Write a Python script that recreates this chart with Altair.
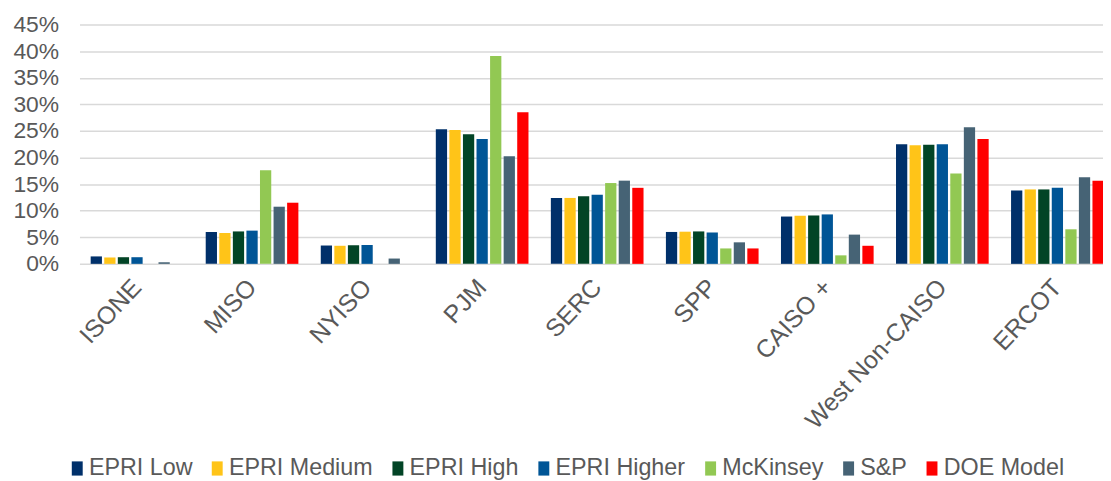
import altair as alt
import pandas as pd

regions = ["ISONE", "MISO", "NYISO", "PJM", "SERC", "SPP", "CAISO +", "West Non-CAISO", "ERCOT"]
series = ["EPRI Low", "EPRI Medium", "EPRI High", "EPRI Higher", "McKinsey", "S&P", "DOE Model"]
colors = ["#00306A", "#FFC418", "#024426", "#005596", "#92C853", "#466375", "#FF0000"]

epri_low = [1.4, 6.0, 3.45, 25.3, 12.4, 6.0, 8.9, 22.5, 13.8]
epri_medium = [1.2, 5.8, 3.4, 25.2, 12.4, 6.05, 9.05, 22.3, 14.0]
epri_high = [1.25, 6.1, 3.5, 24.4, 12.7, 6.1, 9.1, 22.4, 14.0]
epri_higher = [1.25, 6.25, 3.55, 23.5, 13.0, 5.9, 9.3, 22.5, 14.3]
mckinsey = [None, 17.6, None, 39.1, 15.2, 2.9, 1.6, 17.0, 6.5]
sp = [0.3, 10.75, 1.0, 20.25, 15.65, 4.05, 5.5, 25.7, 16.3]
doe_model = [None, 11.5, None, 28.5, 14.3, 2.9, 3.4, 23.5, 15.65]

y_ticks = [0, 5, 10, 15, 20, 25, 30, 35, 40, 45]

all_values = [epri_low, epri_medium, epri_high, epri_higher, mckinsey, sp, doe_model]
rows = []
for name, vals in zip(series, all_values):
    for r, v in zip(regions, vals):
        if v is not None:
            rows.append({"region": r, "series": name, "value": v})
df = pd.DataFrame(rows)

FONT = "Liberation Sans"
GRAY = "#595959"
legend_shape = "M-1,-1.3H1V1.3H-1Z"

chart = alt.Chart(df).mark_bar().encode(
    x=alt.X("region:N", sort=regions,
            scale=alt.Scale(domain=regions, range=[0, 1043], paddingInner=0, paddingOuter=0),
            axis=alt.Axis(title=None, labelAngle=-47, domain=False, ticks=False, grid=False,
                          labelFontSize=25, labelColor=GRAY, labelFont=FONT, labelPadding=19,
                          labelLimit=400)),
    xOffset=alt.XOffset("series:N", sort=series,
                        scale=alt.Scale(domain=series, paddingInner=0.17, paddingOuter=0.825)),
    y=alt.Y("value:Q",
            scale=alt.Scale(domain=[0, 45], nice=False),
            axis=alt.Axis(title=None, values=y_ticks, labelExpr="datum.value + '%'",
                          domain=False, ticks=False, grid=True, gridColor="#D9D9D9", gridWidth=1.5,
                          labelFontSize=23, labelColor=GRAY, labelFont=FONT, labelPadding=21)),
    color=alt.Color("series:N", sort=series,
                    scale=alt.Scale(domain=series, range=colors),
                    legend=alt.Legend(title=None, orient="none", direction="horizontal", columns=7,
                                      legendX=-14, legendY=435, symbolType=legend_shape,
                                      symbolSize=121, symbolStrokeWidth=0, labelFontSize=23.5,
                                      labelColor=GRAY, labelFont=FONT, labelOffset=0,
                                      columnPadding=13, padding=0)),
).properties(
    width=1031, height=241,
    autosize=alt.AutoSizeParams(type="none"),
    padding={"left": 72, "top": 15, "right": 0, "bottom": 217},
).configure_view(stroke=None)

chart.save("out.html", embed_options={"renderer": "svg", "actions": False})
